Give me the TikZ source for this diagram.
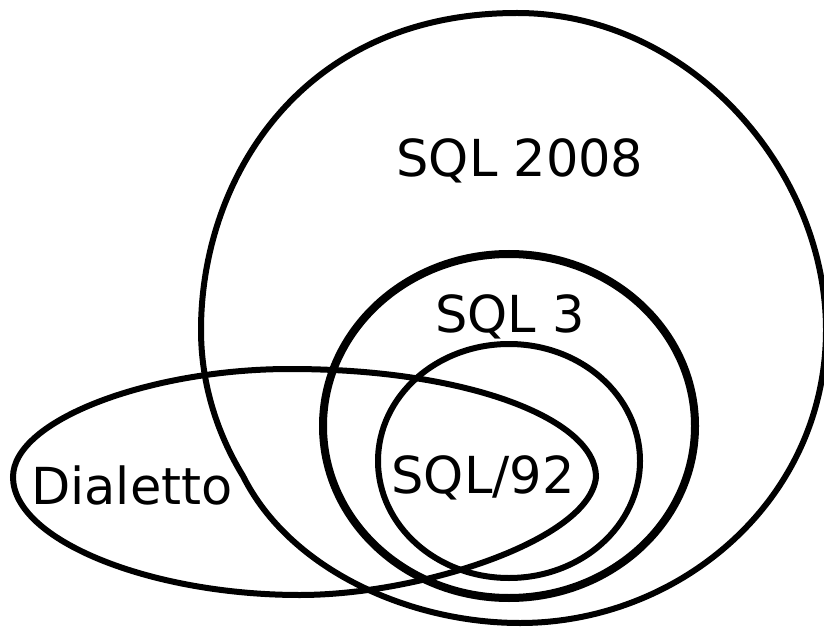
\documentclass[tikz,border=0pt]{standalone}
\usepackage{fontspec}
\setmainfont{DejaVu Sans}
\begin{document}
\begin{tikzpicture}[x=1pt,y=-1pt,
  setline/.style={draw=black,line width=6pt},
  thickset/.style={draw=black,line width=8pt},
  lbl/.style={anchor=base,inner sep=0pt,font=\fontsize{51}{60}\selectfont}]
\useasboundingbox[fill=white] (0,0) rectangle (824,628);
% SQL 2008 outer (hand-drawn) curve
\draw[setline] (517,13) .. controls (690,13) and (826,170) .. (826,330)
  .. controls (826,500) and (680,623) .. (520,623)
  .. controls (410,623) and (290,570) .. (243,476)
  .. controls (215,430) and (201,380) .. (201,330)
  .. controls (201,180) and (300,13) .. (517,13) -- cycle;
% SQL 3
\draw[thickset] (509,426) ellipse [x radius=186, y radius=172];
% SQL/92
\draw[setline] (509,461) ellipse [x radius=131, y radius=117];
% Dialetto
\draw[setline] (13,477) .. controls (13,420) and (150,369) .. (290,369)
  .. controls (470,369) and (596,420) .. (596,477)
  .. controls (590,540) and (420,595) .. (300,595)
  .. controls (150,595) and (13,540) .. (13,477) -- cycle;
\node[lbl] (t2008) at (520,177) {SQL 2008};
\node[lbl] (t3) at (510,332) {SQL 3};
\node[lbl] (t92) at (483,493) {SQL/92};
\node[lbl] (tdial) at (132,504) {Dialetto};
\end{tikzpicture}
\end{document}
